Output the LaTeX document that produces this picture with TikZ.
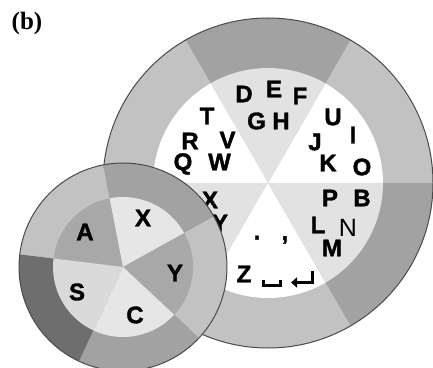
\documentclass[tikz,border=0pt]{standalone}
\usepackage{fontspec}
\setmainfont{Liberation Sans}
\newfontfamily\heavy{Liberation Sans Bold}[FakeBold=1.5]
\newfontfamily\serifb{Liberation Serif Bold}
\usetikzlibrary{arrows.meta}
\definecolor{odark}{HTML}{A2A2A2}
\definecolor{olight}{HTML}{C2C2C2}
\definecolor{ilight}{HTML}{E2E2E2}
\definecolor{sdark}{HTML}{A8A8A8}
\definecolor{svdark}{HTML}{6E6E6E}
\definecolor{slight}{HTML}{E6E6E6}
\definecolor{sslight}{HTML}{DADADA}
\definecolor{rim}{HTML}{4A4A4A}
\begin{document}
\begin{tikzpicture}[x=1pt,y=1pt,
  key/.style={inner sep=0pt, font=\heavy\fontsize{24}{24}\selectfont, text=black},
  keythin/.style={inner sep=0pt, font=\fontsize{25}{25}\selectfont, text=black},
  sym/.style={line width=3pt, black},
  rimline/.style={draw=rim, line width=1pt}]
\useasboundingbox (0,0) rectangle (433,367);
\fill[white] (0,0) rectangle (433,367);
% ---------- big circle ----------
\coordinate (bc) at (268,184);
\def\Ro{165}\def\Ri{115}
\foreach \a/\c in {0/olight,60/odark,120/olight,180/odark,240/olight,300/odark}{
  \fill[\c] (bc) -- ++(\a:\Ro) arc[start angle=\a, end angle=\a+60, radius=\Ro] -- cycle;}
\foreach \a/\c in {0/white,60/ilight,120/white,180/ilight,240/white,300/ilight}{
  \fill[\c] (bc) -- ++(\a:\Ri) arc[start angle=\a, end angle=\a+60, radius=\Ri] -- cycle;}
\draw[rimline] (bc) circle[radius=\Ro];
% letters
\node[key] (kD) at (244,273) {D};
\node[key] (kE) at (274,278) {E};
\node[key] (kF) at (300,271) {F};
\node[key] (kG) at (256.5,246) {G};
\node[key] (kH) at (281,246) {H};
\node[key] (kT) at (207,251) {T};
\node[key] (kR) at (190,226) {R};
\node[key] (kV) at (227.5,227) {V};
\node[key] (kQ) at (183,203) {Q};
\node[key] (kW) at (219.5,205) {W};
\node[key] (kU) at (333,250) {U};
\node[key] (kI) at (353,232) {I};
\node[key] (kJ) at (315,225) {J};
\node[key] (kK) at (328,204) {K};
\node[key] (kO) at (362,200) {O};
\node[key] (kX) at (210,167) {X};
\node[key] (kY) at (220,144) {Y};
\node[key] (kP) at (330,169) {P};
\node[key] (kB) at (362,169) {B};
\node[key] (kL) at (318,142) {L};
\node[keythin] (kN) at (348,139) {N};
\node[key] (kM) at (332,119) {M};
\node[key, anchor=base] (kdot) at (257,127.5) {.};
\node[key, anchor=base] (kcomma) at (285,127) {,};
\node[key] (kZ) at (244,93) {Z};
% space symbol
\coordinate (sp1) at (263,87);
\coordinate (sp2) at (263,81.5);
\coordinate (sp3) at (280,81.5);
\coordinate (sp4) at (280,87);
\draw[sym] (sp1) -- (sp2) -- (sp3) -- (sp4);
% return symbol
\coordinate (rt1) at (312,96);
\coordinate (rt2) at (312,84.5);
\coordinate (rt3) at (291,84.5);
\draw[sym, -{Triangle[length=6pt,width=10pt]}] (rt1) -- (rt2) -- (rt3);
% ---------- small circle ----------
\coordinate (sc) at (123,100);
\def\ro{104}\def\ri{70}
\foreach \a/\c in {101/olight,29/odark,-43/olight,-115/odark,-187/svdark}{
  \fill[\c] (sc) -- ++(\a:\ro) arc[start angle=\a, end angle=\a+72, radius=\ro] -- cycle;}
\foreach \a/\c in {101/sdark,29/slight,-43/sdark,-115/slight,-187/sslight}{
  \fill[\c] (sc) -- ++(\a:\ri) arc[start angle=\a, end angle=\a+72, radius=\ri] -- cycle;}
\draw[rimline] (sc) circle[radius=\ro];
\node[key] (sA) at (85,135) {A};
\node[key] (sX) at (143,149) {X};
\node[key] (sY) at (175,94) {Y};
\node[key] (sS) at (77,75) {S};
\node[key] (sC) at (135,52) {C};
% label
\node[inner sep=0pt, font=\serifb\fontsize{25}{25}\selectfont] (lab) at (27,343.5) {(b)};
\end{tikzpicture}
\end{document}
